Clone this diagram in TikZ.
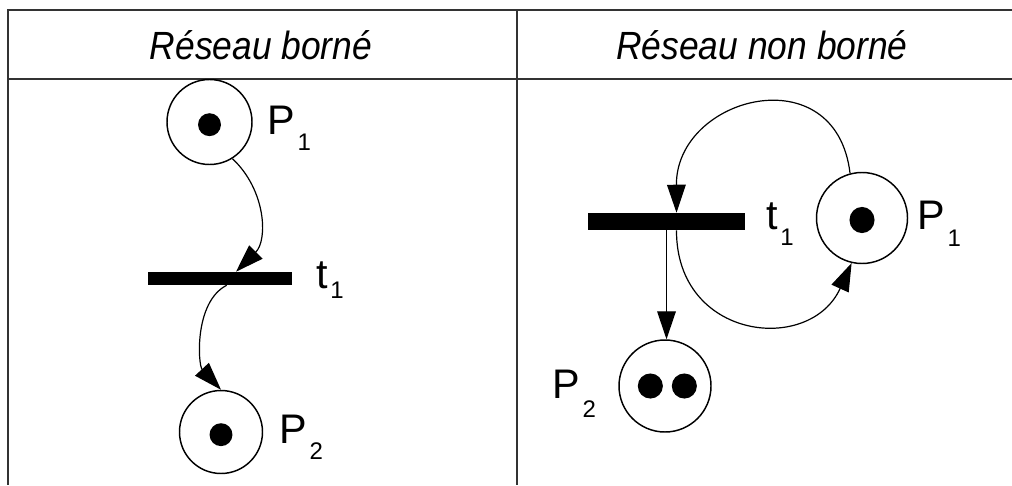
\documentclass[tikz,border=0pt]{standalone}
\usepackage{fontspec}
\setmainfont{Liberation Sans}
\newfontfamily\headfont{Liberation Sans}[FakeStretch=0.9]
\usetikzlibrary{arrows.meta}
\newcommand\plabel[3]{#1\kern2pt\raisebox{-#3}{\fontsize{18}{18}\selectfont #2}}
\begin{document}
\begin{tikzpicture}[x=0.75pt,y=-0.75pt,
  frame/.style={draw=black!80,line width=1.4pt},
  place/.style={circle,draw,line width=1.1pt,inner sep=0pt},
  bar/.style={rectangle,fill=black,inner sep=0pt},
  token/.style={fill=black},
  arc/.style={draw,line width=0.9pt,-{Triangle[length=21pt,width=14pt]}},
  lab/.style={anchor=base west,inner sep=0pt,font=\fontsize{31}{31}\selectfont},
  head/.style={anchor=base,inner sep=0pt,font=\headfont\itshape\fontsize{29.5}{29.5}\selectfont}]
\useasboundingbox (0,0) rectangle (1012,485);
% table frame
\draw[frame] (1012,10) -- (8,10) -- (8,485);
\draw[frame] (8,79) -- (1012,79);
\draw[frame] (517,10) -- (517,485);
\node[head] (h1) at (261,60) {Réseau borné};
\node[head] (h2) at (762,60) {Réseau non borné};
% left net
\node[place,minimum size=63.75pt] (P1L) at (209.5,122) {};
\node[bar,minimum width=108pt,minimum height=9.75pt] (t1L) at (220,278.5) {};
\node[place,minimum size=62.25pt] (P2L) at (221,432) {};
\fill[token] ([yshift=-2pt]P1L.center) circle[radius=8.6pt];
\fill[token] ([yshift=-2pt]P2L.center) circle[radius=8.6pt];
\node[lab] (lP1L) at (267,134) {\plabel{P}{1}{12pt}};
\node[lab] (lt1L) at (316,288) {\plabel{t}{1}{8pt}};
\node[lab] (lP2L) at (279,443) {\plabel{P}{2}{12.5pt}};
\draw[arc] (P1L.-58) .. controls (266,190) and (268,240) .. ([xshift=12pt]t1L.north);
\draw[arc] ([xshift=5pt]t1L.south) .. controls (194,302) and (198,365) .. (P2L.north);
% right net
\node[bar,minimum width=117.75pt,minimum height=12.75pt] (t1R) at (666.5,221.5) {};
\node[place,minimum size=68.25pt] (P1R) at (862,218) {};
\node[place,minimum size=69pt] (P2R) at (665,386) {};
\fill[token] ([yshift=-1.5pt]P1R.center) ellipse[x radius=9.4pt,y radius=9.8pt];
\fill[token] ([xshift=-11pt]P2R.center) circle[radius=9.4pt];
\fill[token] ([xshift=14.5pt]P2R.center) circle[radius=9.4pt];
\node[lab] (lt1R) at (766,229) {\plabel{t}{1}{12pt}};
\node[lab] (lP1R) at (917,229) {\plabel{P}{1}{13pt}};
\node[lab] (lP2R) at (552,398) {\plabel{P}{2}{14.5pt}};
\draw[arc] (P1R.105) .. controls (836,55) and (676,96) .. ([xshift=7.5pt]t1R.north);
\draw[arc] ([xshift=7.5pt]t1R.south) .. controls (676,340) and (810,355) .. (P1R.-103);
\draw[arc] (t1R.south) -- (t1R.south |- P2R.north);
\end{tikzpicture}
\end{document}
